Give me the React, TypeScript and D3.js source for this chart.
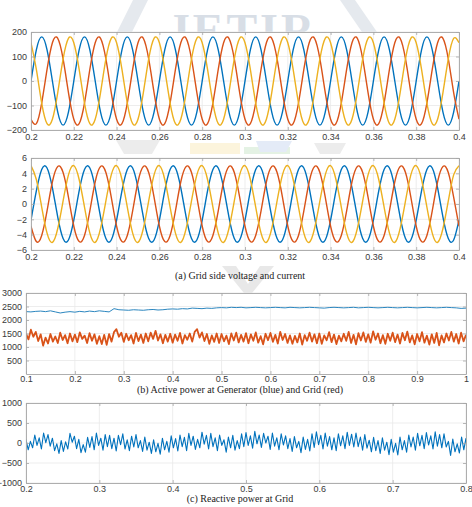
import { useRef, useEffect } from "react";
import * as d3 from "d3";

const width = 472;
const height = 507;

const blue = "#0072bd";
const red = "#d95319";
const yellow = "#edb120";

// phase voltages and currents, sampled every 2.5 ms (8 samples per 50 Hz cycle)
const waveTime = d3.range(81).map((i) => 0.2 + i * 0.0025);

const voltageA = [
  0, 127, 180, 127, 0, -127, -180, -127,
  0, 127, 180, 127, 0, -127, -180, -127,
  0, 127, 180, 127, 0, -127, -180, -127,
  0, 127, 180, 127, 0, -127, -180, -127,
  0, 127, 180, 127, 0, -127, -180, -127,
  0, 127, 180, 127, 0, -127, -180, -127,
  0, 127, 180, 127, 0, -127, -180, -127,
  0, 127, 180, 127, 0, -127, -180, -127,
  0, 127, 180, 127, 0, -127, -180, -127,
  0, 127, 180, 127, 0, -127, -180, -127,
  0,
];
const voltageB = [
  -156, -174, -90, 47, 156, 174, 90, -47,
  -156, -174, -90, 47, 156, 174, 90, -47,
  -156, -174, -90, 47, 156, 174, 90, -47,
  -156, -174, -90, 47, 156, 174, 90, -47,
  -156, -174, -90, 47, 156, 174, 90, -47,
  -156, -174, -90, 47, 156, 174, 90, -47,
  -156, -174, -90, 47, 156, 174, 90, -47,
  -156, -174, -90, 47, 156, 174, 90, -47,
  -156, -174, -90, 47, 156, 174, 90, -47,
  -156, -174, -90, 47, 156, 174, 90, -47,
  -156,
];
const voltageC = [
  156, 47, -90, -174, -156, -47, 90, 174,
  156, 47, -90, -174, -156, -47, 90, 174,
  156, 47, -90, -174, -156, -47, 90, 174,
  156, 47, -90, -174, -156, -47, 90, 174,
  156, 47, -90, -174, -156, -47, 90, 174,
  156, 47, -90, -174, -156, -47, 90, 174,
  156, 47, -90, -174, -156, -47, 90, 174,
  156, 47, -90, -174, -156, -47, 90, 174,
  156, 47, -90, -174, -156, -47, 90, 174,
  156, 47, -90, -174, -156, -47, 90, 174,
  156,
];

const currentA = [
  -2.1, 1.7, 4.5, 4.7, 2.1, -1.7, -4.5, -4.7,
  -2.1, 1.7, 4.5, 4.7, 2.1, -1.7, -4.5, -4.7,
  -2.1, 1.7, 4.5, 4.7, 2.1, -1.7, -4.5, -4.7,
  -2.1, 1.7, 4.5, 4.7, 2.1, -1.7, -4.5, -4.7,
  -2.1, 1.7, 4.5, 4.7, 2.1, -1.7, -4.5, -4.7,
  -2.1, 1.7, 4.5, 4.7, 2.1, -1.7, -4.5, -4.7,
  -2.1, 1.7, 4.5, 4.7, 2.1, -1.7, -4.5, -4.7,
  -2.1, 1.7, 4.5, 4.7, 2.1, -1.7, -4.5, -4.7,
  -2.1, 1.7, 4.5, 4.7, 2.1, -1.7, -4.5, -4.7,
  -2.1, 1.7, 4.5, 4.7, 2.1, -1.7, -4.5, -4.7,
  -2.1,
];
const currentB = [
  -2.9, -4.9, -4.1, -0.9, 2.9, 4.9, 4.1, 0.9,
  -2.9, -4.9, -4.1, -0.9, 2.9, 4.9, 4.1, 0.9,
  -2.9, -4.9, -4.1, -0.9, 2.9, 4.9, 4.1, 0.9,
  -2.9, -4.9, -4.1, -0.9, 2.9, 4.9, 4.1, 0.9,
  -2.9, -4.9, -4.1, -0.9, 2.9, 4.9, 4.1, 0.9,
  -2.9, -4.9, -4.1, -0.9, 2.9, 4.9, 4.1, 0.9,
  -2.9, -4.9, -4.1, -0.9, 2.9, 4.9, 4.1, 0.9,
  -2.9, -4.9, -4.1, -0.9, 2.9, 4.9, 4.1, 0.9,
  -2.9, -4.9, -4.1, -0.9, 2.9, 4.9, 4.1, 0.9,
  -2.9, -4.9, -4.1, -0.9, 2.9, 4.9, 4.1, 0.9,
  -2.9,
];
const currentC = [
  5.0, 3.2, -0.4, -3.8, -5.0, -3.2, 0.4, 3.8,
  5.0, 3.2, -0.4, -3.8, -5.0, -3.2, 0.4, 3.8,
  5.0, 3.2, -0.4, -3.8, -5.0, -3.2, 0.4, 3.8,
  5.0, 3.2, -0.4, -3.8, -5.0, -3.2, 0.4, 3.8,
  5.0, 3.2, -0.4, -3.8, -5.0, -3.2, 0.4, 3.8,
  5.0, 3.2, -0.4, -3.8, -5.0, -3.2, 0.4, 3.8,
  5.0, 3.2, -0.4, -3.8, -5.0, -3.2, 0.4, 3.8,
  5.0, 3.2, -0.4, -3.8, -5.0, -3.2, 0.4, 3.8,
  5.0, 3.2, -0.4, -3.8, -5.0, -3.2, 0.4, 3.8,
  5.0, 3.2, -0.4, -3.8, -5.0, -3.2, 0.4, 3.8,
  5.0,
];

// active power, generator every 10 ms, grid every 5 ms
const genTime = d3.range(91).map((i) => 0.1 + i * 0.01);
const generatorPower = [
  2310, 2300, 2320, 2330, 2310, 2340, 2300, 2260, 2290, 2310,
  2290, 2320, 2300, 2330, 2310, 2340, 2320, 2300, 2420, 2380,
  2370, 2360, 2380, 2370, 2360, 2380, 2390, 2370, 2380, 2400,
  2410, 2400, 2420, 2410, 2440, 2430, 2420, 2440, 2430, 2450,
  2460, 2450, 2470, 2460, 2470, 2450, 2460, 2470, 2460, 2450,
  2460, 2470, 2460, 2450, 2470, 2460, 2450, 2460, 2470, 2460,
  2450, 2440, 2460, 2470, 2460, 2450, 2460, 2470, 2450, 2460,
  2470, 2460, 2450, 2460, 2470, 2460, 2450, 2460, 2470, 2460,
  2450, 2460, 2470, 2460, 2450, 2460, 2470, 2460, 2450, 2430,
  2440,
];

const gridTime = d3.range(181).map((i) => 0.1 + i * 0.005);
const gridPower = [
  1500, 1280, 1640, 1380, 1560, 1220, 1470, 1050, 1350, 1130,
  1480, 1200, 1390, 1150, 1530, 1260, 1440, 1140, 1500, 1210,
  1460, 1180, 1540, 1300, 1420, 1150, 1510, 1230, 1470, 1120,
  1400, 1110, 1450, 1080, 1480, 1200, 1550, 1660, 1380, 1530,
  1190, 1490, 1250, 1440, 1130, 1520, 1220, 1460, 1150, 1500,
  1210, 1530, 1300, 1600, 1240, 1470, 1140, 1450, 1200, 1490,
  1160, 1460, 1230, 1520, 1130, 1440, 1270, 1500, 1200, 1560,
  1660, 1350, 1540, 1220, 1480, 1120, 1430, 1190, 1500, 1150,
  1480, 1210, 1420, 1110, 1500, 1240, 1530, 1170, 1450, 1200,
  1510, 1140, 1470, 1230, 1540, 1160, 1400, 1100, 1490, 1250,
  1520, 1190, 1450, 1130, 1560, 1260, 1480, 1150, 1430, 1120,
  1410, 1170, 1500, 1090, 1440, 1230, 1530, 1200, 1470, 1140,
  1500, 1120, 1430, 1250, 1550, 1180, 1460, 1110, 1420, 1210,
  1490, 1230, 1560, 1150, 1450, 1100, 1510, 1240, 1540, 1190,
  1470, 1160, 1580, 1270, 1500, 1140, 1440, 1120, 1490, 1230,
  1530, 1180, 1460, 1130, 1520, 1250, 1570, 1170, 1430, 1100,
  1480, 1210, 1550, 1160, 1420, 1090, 1470, 1150, 1520, 1060,
  1430, 1170, 1500, 1240, 1560, 1200, 1480, 1130, 1530, 1210,
  1450,
];

// reactive power at the grid, every 3 ms
const reactiveTime = d3.range(201).map((i) => 0.2 + i * 0.003);
const reactivePower = [
  90, -170, 40, -120, 200, -60, 130, -150, 250, 10,
  210, -80, 120, -190, -20, -260, 60, -210, 30, -150,
  240, 20, 170, -140, 90, -240, -40, -230, 140, -110,
  160, -170, 250, -60, 120, -180, 210, -90, 190, -140,
  120, -200, 190, -40, 230, -150, 80, -190, 170, -100,
  210, -120, 60, -210, 150, -180, 20, -260, 80, -220,
  -10, -280, 120, -170, 40, -230, 180, -120, 110, -200,
  200, -90, 140, -190, 240, -60, 170, -160, 90, -120,
  270, -30, 190, -150, 240, -90, 130, -190, 200, -60,
  80, -230, 150, -120, 190, -180, 60, -140, 230, -90,
  260, -60, 180, -130, 290, -20, 200, -110, 240, 0,
  170, -160, 250, -80, 130, -170, 230, -50, 180, -140,
  110, -210, 160, -120, 40, -240, 150, -160, 90, -200,
  230, -110, 280, -40, 190, -150, 250, -80, 160, -170,
  130, -190, 230, -70, 180, -140, 270, -60, 220, -100,
  250, -90, 150, -180, 210, -130, 70, -220, 140, -190,
  60, -260, 130, -180, 20, -290, 90, -230, -10, -300,
  150, -170, 60, -230, 200, -100, 150, -180, 240, -70,
  190, -140, 260, -50, 180, -150, 280, -80, 210, -120,
  230, -100, 40, -310, 100, -220, -20, -250, 150, -170,
  120,
];

// tick values
const waveTicks = d3.range(11).map((i) => +(0.2 + i * 0.02).toFixed(2));
const voltageTicks = [-200, -100, 0, 100, 200];
const currentTicks = [-6, -4, -2, 0, 2, 4, 6];
const activeTimeTicks = d3.range(10).map((i) => +(0.1 + i * 0.1).toFixed(1));
const activeTicks = [500, 1000, 1500, 2000, 2500, 3000];
const reactiveTimeTicks = d3.range(7).map((i) => +(0.2 + i * 0.1).toFixed(1));
const reactiveTicks = [-1000, -500, 0, 500, 1000];

const captions = [
  { text: "(a) Grid side voltage and current", y: 279 },
  { text: "(b) Active power at Generator (blue) and Grid (red)", y: 393 },
  { text: "(c) Reactive power at Grid", y: 502 },
];

interface Series {
  t: number[];
  v: number[];
  color: string;
  width: number;
  smooth?: boolean;
}

interface Panel {
  left: number;
  right: number;
  top: number;
  bottom: number;
  xPad: number;
  xDomain: [number, number];
  yDomain: [number, number];
  xTicks: number[];
  yTicks: number[];
  series: Series[];
}

const panels: Panel[] = [
  {
    left: 31, right: 459, top: 32, bottom: 130, xPad: 4,
    xDomain: [0.2, 0.4], yDomain: [-200, 200],
    xTicks: waveTicks, yTicks: voltageTicks,
    series: [
      { t: waveTime, v: voltageA, color: blue, width: 1.4, smooth: true },
      { t: waveTime, v: voltageB, color: red, width: 1.4, smooth: true },
      { t: waveTime, v: voltageC, color: yellow, width: 1.4, smooth: true },
    ],
  },
  {
    left: 31, right: 459, top: 158, bottom: 250, xPad: 4,
    xDomain: [0.2, 0.4], yDomain: [-6, 6],
    xTicks: waveTicks, yTicks: currentTicks,
    series: [
      { t: waveTime, v: currentA, color: blue, width: 1.4, smooth: true },
      { t: waveTime, v: currentB, color: red, width: 1.4, smooth: true },
      { t: waveTime, v: currentC, color: yellow, width: 1.4, smooth: true },
    ],
  },
  {
    left: 26, right: 466, top: 293, bottom: 374, xPad: 1.5,
    xDomain: [0.1, 1], yDomain: [0, 3000],
    xTicks: activeTimeTicks, yTicks: activeTicks,
    series: [
      { t: genTime, v: generatorPower, color: "#2b86bf", width: 1 },
      { t: gridTime, v: gridPower, color: red, width: 1.8 },
    ],
  },
  {
    left: 26, right: 466, top: 403, bottom: 483, xPad: 2.5,
    xDomain: [0.2, 0.8], yDomain: [-1000, 1000],
    xTicks: reactiveTimeTicks, yTicks: reactiveTicks,
    series: [{ t: reactiveTime, v: reactivePower, color: blue, width: 1.1 }],
  },
];

const axisColor = "#a6a6a6";
const gridColor = "#e8e8e8";
const labelFont = "Liberation Sans, Arial, sans-serif";

function drawPanel(
  svg: d3.Selection<SVGSVGElement, unknown, null, undefined>,
  p: Panel,
  id: number
) {
  const x = d3.scaleLinear().domain(p.xDomain).range([p.left, p.right]);
  const y = d3.scaleLinear().domain(p.yDomain).range([p.bottom, p.top]);
  const g = svg.append("g");

  g.append("rect")
    .attr("x", p.left)
    .attr("y", p.top)
    .attr("width", p.right - p.left)
    .attr("height", p.bottom - p.top)
    .attr("fill", "#fff");

  // grid
  g.append("g")
    .selectAll("line")
    .data(p.xTicks)
    .join("line")
    .attr("x1", (d) => x(d))
    .attr("x2", (d) => x(d))
    .attr("y1", p.top)
    .attr("y2", p.bottom)
    .attr("stroke", gridColor)
    .attr("stroke-width", 0.8);
  g.append("g")
    .selectAll("line")
    .data(p.yTicks)
    .join("line")
    .attr("x1", p.left)
    .attr("x2", p.right)
    .attr("y1", (d) => y(d))
    .attr("y2", (d) => y(d))
    .attr("stroke", gridColor)
    .attr("stroke-width", 0.8);

  const clipId = `plot-clip-${id}`;
  svg
    .append("clipPath")
    .attr("id", clipId)
    .append("rect")
    .attr("x", p.left)
    .attr("y", p.top)
    .attr("width", p.right - p.left)
    .attr("height", p.bottom - p.top);

  const plot = g.append("g").attr("clip-path", `url(#${clipId})`);
  p.series.forEach((s) => {
    const line = d3
      .line<number>()
      .x((_, i) => x(s.t[i]))
      .y((d) => y(d))
      .curve(s.smooth ? d3.curveNatural : d3.curveLinear);
    plot
      .append("path")
      .datum(s.v)
      .attr("fill", "none")
      .attr("stroke", s.color)
      .attr("stroke-width", s.width)
      .attr("stroke-linejoin", "round")
      .attr("d", line);
  });

  // box with inward ticks on all four sides
  const style = (a: d3.Selection<SVGGElement, unknown, null, undefined>) => {
    a.attr("font-family", labelFont).attr("font-size", 9);
    a.select(".domain").attr("stroke", axisColor).attr("stroke-width", 0.9);
    a.selectAll(".tick line").attr("stroke", axisColor).attr("stroke-width", 0.8);
    a.selectAll(".tick text").attr("fill", "#3a3a3a");
  };

  g.append("g")
    .attr("transform", `translate(0,${p.bottom})`)
    .call(d3.axisBottom(x).tickValues(p.xTicks).tickSize(-3).tickSizeOuter(0).tickPadding(p.xPad).tickFormat((d) => String(d)))
    .call(style);
  g.append("g")
    .attr("transform", `translate(0,${p.top})`)
    .call(d3.axisTop(x).tickValues(p.xTicks).tickSize(-3).tickSizeOuter(0).tickFormat(() => ""))
    .call(style);
  g.append("g")
    .attr("transform", `translate(${p.left},0)`)
    .call(d3.axisLeft(y).tickValues(p.yTicks).tickSize(-3).tickSizeOuter(0).tickPadding(4).tickFormat(d3.format("d")))
    .call(style);
  g.append("g")
    .attr("transform", `translate(${p.right},0)`)
    .call(d3.axisRight(y).tickSize(-3).tickValues(p.yTicks).tickSizeOuter(0).tickFormat(() => ""))
    .call(style);
}

export default function App() {
  const ref = useRef<SVGSVGElement | null>(null);

  useEffect(() => {
    const svg = d3.select(ref.current as SVGSVGElement);
    svg.selectAll("*").remove();

    // faint journal watermark behind the axes
    const mark = svg.append("g");
    mark.append("path").attr("d", "M110,46 L125,46 L148,0 L133,0 Z").attr("fill", "#e5e9ee");
    mark.append("path").attr("d", "M340,0 L355,0 L377,32 L362,32 Z").attr("fill", "#e5e9ee");
    mark
      .append("text")
      .attr("x", 242)
      .attr("y", 46)
      .attr("text-anchor", "middle")
      .attr("font-family", "Liberation Serif, serif")
      .attr("font-weight", "bold")
      .attr("font-size", 46)
      .attr("letter-spacing", 3)
      .attr("fill", "#d8dee6")
      .text("JETIR");
    mark.append("path").attr("d", "M116,140 L160,140 L152,154 L124,154 Z").attr("fill", "#ececec");
    mark.append("rect").attr("x", 190).attr("y", 143).attr("width", 50).attr("height", 11).attr("fill", "#fcf4dc");
    mark.append("rect").attr("x", 244).attr("y", 147).attr("width", 46).attr("height", 7).attr("fill", "#e4f2e4");
    mark.append("path").attr("d", "M256,141 L292,141 L286,152 L260,152 Z").attr("fill", "#e4ebf7");
    mark.append("path").attr("d", "M314,143 L346,143 L340,154 L320,154 Z").attr("fill", "#ececec");
    mark.append("path").attr("d", "M222,266 L236,266 L248,284 L260,266 L274,266 L248,298 Z").attr("fill", "#e8e8e8");

    panels.forEach((p, i) => drawPanel(svg, p, i));

    svg
      .append("g")
      .selectAll("text")
      .data(captions)
      .join("text")
      .attr("x", 240)
      .attr("y", (d) => d.y)
      .attr("text-anchor", "middle")
      .attr("font-family", "Liberation Serif, Times New Roman, serif")
      .attr("font-size", 10)
      .attr("fill", "#222")
      .text((d) => d.text);
  }, []);

  return (
    <svg
      ref={ref}
      width={width}
      height={height}
      style={{ position: "absolute", left: 0, top: 0, background: "#fff" }}
    />
  );
}
